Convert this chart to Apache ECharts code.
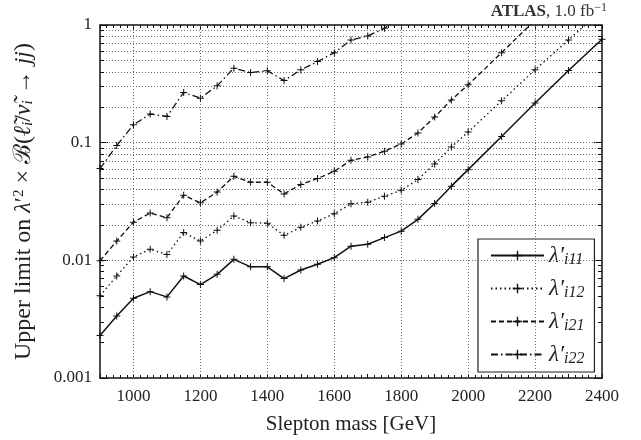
<!DOCTYPE html>
<html><head><meta charset="utf-8">
<script src="https://cdn.jsdelivr.net/npm/echarts@6/dist/echarts.min.js"></script>
<style>html,body{margin:0;padding:0;background:#fff}#c{width:641px;height:440px}</style>
</head><body><div id="c"></div>
<script>
const masses = [900,950,1000,1050,1100,1150,1200,1250,1300,1350,1400,1450,1500,1550,1600,1650,1700,1750,1800,1850,1900,1950,2000,2100,2200,2300,2400];
const l11 = [0.0023,0.00337,0.00476,0.00542,0.00489,0.00736,0.00622,0.0076,0.0102,0.0088,0.0088,0.0070,0.00828,0.00925,0.01054,0.0132,0.0137,0.0156,0.0177,0.0223,0.0304,0.0427,0.059,0.113,0.217,0.41,0.756];
const l12 = [0.005,0.00736,0.0107,0.0124,0.0112,0.0172,0.0146,0.018,0.0238,0.0209,0.0207,0.0163,0.0191,0.0216,0.0249,0.0302,0.0312,0.0351,0.0394,0.0486,0.066,0.092,0.123,0.227,0.416,0.746,1.34];
const l21 = [0.0099,0.0146,0.0211,0.0252,0.023,0.0358,0.0308,0.038,0.0518,0.0461,0.0461,0.0367,0.0441,0.0496,0.0571,0.0708,0.0756,0.0845,0.0975,0.121,0.165,0.231,0.31,0.582,1.1,null,null];
const l22 = [0.0602,0.0944,0.142,0.175,0.167,0.267,0.239,0.304,0.43,0.394,0.408,0.337,0.416,0.489,0.582,0.746,0.807,0.937,1.2,null,null,null,null,null,null,null,null];
const seriesNames = ['i11','i12','i21','i22'];
const xTickLabels = [1000,1200,1400,1600,1800,2000,2200,2400];
const yTickLabels = ['0.001','0.01','0.1','1'];
const yGridValues = [0.002,0.003,0.004,0.005,0.006,0.007,0.008,0.009,0.01,0.02,0.03,0.04,0.05,0.06,0.07,0.08,0.09,0.1,0.2,0.3,0.4,0.5,0.6,0.7,0.8,0.9];

const FONT = 'Liberation Serif';
const plus = 'path://M3,0H4V3H7V4H4V7H3V4H0V3H3Z';
const gridStyle = {color:'#6a6a6a', width:1, type:[1,2]};
const chart = echarts.init(document.getElementById('c'), null, {renderer:'canvas'});

const pair = (ys) => masses.map((m,i)=>[m, ys[i]]);
const dashes = ['solid',[1.5,3],[5,3],[7,3,1.5,3]];
const allData = [l11,l12,l21,l22];

const lineSeries = allData.map((d,k)=>({
  name: seriesNames[k], type:'line', data: pair(d), xAxisIndex:0, yAxisIndex:0,
  symbol: plus, symbolSize: 7, showSymbol:true, clip:true, connectNulls:false,
  itemStyle:{color:'#111'}, lineStyle:{color:'#111', width:k===0?1.5:1.3, type:dashes[k]},
  emphasis:{disabled:true}, animation:false, z:5
}));

const minorTicks = [];
yGridValues.forEach(v=>{
  minorTicks.push([{coord:[900,v]},{coord:[912,v]}]);
  minorTicks.push([{coord:[2388,v]},{coord:[2400,v]}]);
});

const gridSeries = {
  type:'line', data:[], xAxisIndex:0, yAxisIndex:0, silent:true, animation:false, z:1,
  markLine:{
    silent:true, symbol:'none', animation:false, label:{show:false},
    lineStyle:gridStyle,
    data: yGridValues.map(v=>({yAxis:v})).concat(xTickLabels.slice(0,-1).map(x=>({xAxis:x})))
  }
};
const tickSeries = {
  type:'line', data:[], xAxisIndex:0, yAxisIndex:0, silent:true, animation:false, z:6,
  markLine:{
    silent:true, symbol:'none', animation:false, label:{show:false},
    lineStyle:{color:'#111', width:1, type:'solid'},
    data: minorTicks
  }
};

const option = {
  backgroundColor:'#fff',
  animation:false,
  textStyle:{fontFamily:FONT},
  grid:{left:100, right:39, top:25, bottom:61, containLabel:false},
  xAxis:[{
    type:'value', min:900, max:2400, interval:100, position:'bottom',
    axisLine:{show:true, lineStyle:{color:'#111', width:1.5}},
    axisTick:{show:true, inside:true, length:4, lineStyle:{color:'#111'}},
    minorTick:{show:true, splitNumber:5, length:3, lineStyle:{color:'#111'}},
    splitLine:{show:false},
    axisLabel:{color:'#222', fontFamily:FONT, fontSize:17, margin:10,
      formatter:(v)=> xTickLabels.indexOf(v)>=0 ? String(v) : ''},
    name:'Slepton mass [GeV]', nameLocation:'middle', nameGap:36,
    nameTextStyle:{color:'#222', fontFamily:FONT, fontSize:21}
  },{
    type:'value', min:900, max:2400, interval:100, position:'top',
    axisLine:{show:true, lineStyle:{color:'#111', width:1.5}},
    axisTick:{show:true, inside:true, length:4, lineStyle:{color:'#111'}},
    minorTick:{show:true, splitNumber:5, length:3, lineStyle:{color:'#111'}},
    splitLine:{show:false}, axisLabel:{show:false}
  }],
  yAxis:[{
    type:'log', logBase:10, min:0.001, max:1, position:'left',
    axisLine:{show:true, lineStyle:{color:'#111', width:1.5}},
    axisTick:{show:true, inside:true, length:8, lineStyle:{color:'#111'}},
    splitLine:{show:false},
    axisLabel:{color:'#222', fontFamily:FONT, fontSize:17, margin:8,
      formatter:(v)=> yTickLabels[Math.round(Math.log10(v))+3]},
    name:'Upper limit on {i|λ}′{sup|2} × ℬ({i|ℓ̃}{sub|i}/{i|ν̃}{sub|i} → {i|jj})',
    nameLocation:'middle', nameGap:64, nameRotate:90,
    nameTextStyle:{color:'#222', fontFamily:FONT, fontSize:24,
      rich:{
        i:{fontFamily:FONT, fontSize:24, fontStyle:'italic', color:'#222'},
        sup:{fontFamily:FONT, fontSize:15, verticalAlign:'top', color:'#222'},
        sub:{fontFamily:FONT, fontSize:15, fontStyle:'italic', verticalAlign:'bottom', color:'#222'}
      }}
  },{
    type:'log', logBase:10, min:0.001, max:1, position:'right',
    axisLine:{show:true, lineStyle:{color:'#111', width:1.5}},
    axisTick:{show:true, inside:true, length:8, lineStyle:{color:'#111'}},
    splitLine:{show:false}, axisLabel:{show:false}
  }],
  legend:{
    orient:'vertical', left:478, top:239, width:112,
    backgroundColor:'#fff', borderColor:'#222', borderWidth:1.2, borderRadius:0,
    padding:[5,10,5,12], itemGap:9, itemWidth:53, itemHeight:12,
    data: seriesNames,
    textStyle:{color:'#222', fontFamily:FONT,
      rich:{
        l:{fontFamily:FONT, fontSize:23, fontStyle:'italic', color:'#222', lineHeight:25},
        s:{fontFamily:FONT, fontSize:16, fontStyle:'italic', color:'#222', verticalAlign:'bottom', lineHeight:16}
      }},
    formatter:(n)=>'{l|λ′}{s|' + n + '}'
  },
  graphic:[{
    type:'text', right:34, top:2,
    style:{
      text:'{b|ATLAS}{n|, 1.0 fb}{s|−1}',
      rich:{
        b:{fontFamily:FONT, fontSize:17, fontWeight:'bold', fill:'#333', lineHeight:20},
        n:{fontFamily:FONT, fontSize:17, fill:'#333', lineHeight:20},
        s:{fontFamily:FONT, fontSize:12, fill:'#333', verticalAlign:'top', lineHeight:12}
      }
    }
  }],
  series:[gridSeries, tickSeries].concat(lineSeries)
};
chart.setOption(option);
</script></body></html>
